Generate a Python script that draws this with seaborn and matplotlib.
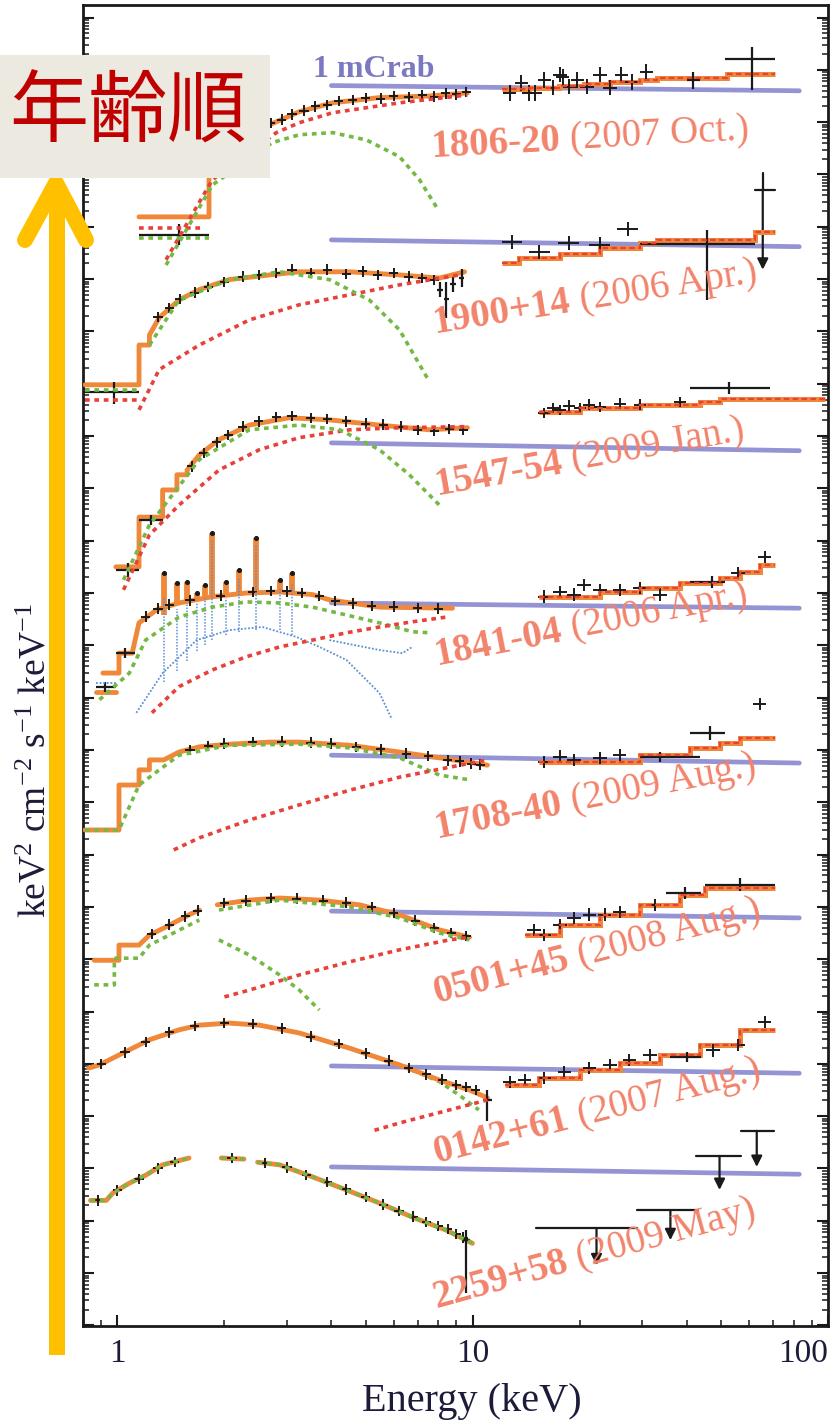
import numpy as np
import matplotlib.pyplot as plt
import matplotlib.transforms as mtransforms
import seaborn as sns
from matplotlib.lines import Line2D
from matplotlib.patches import Rectangle
from matplotlib.ticker import LogLocator, NullFormatter

# energies in keV, fluxes as log10 of the stacked nuFnu (each source shifted by a constant)

# ---- 1806-20
tot_1806 = [(1.15, 20.19), (1.81, 20.19), (1.81, 21.00), (2.06, 21.50), (2.35, 21.75), (2.68, 21.95),
            (3.25, 22.20), (4.03, 22.37), (5.46, 22.47), (7.55, 22.50), (9.66, 22.56)]
pl_1806_lo = [(1.15, 19.98), (1.75, 19.98)]
pl_1806 = [(1.37, 19.37), (1.59, 20.13), (1.85, 20.90), (2.80, 21.80), (3.25, 21.99), (4.03, 22.18),
           (6.22, 22.37), (9.66, 22.52)]
bb_1806_lo = [(1.15, 19.79), (1.81, 19.79)]
bb_1806 = [(1.37, 19.27), (1.85, 20.80), (2.73, 21.61), (3.25, 21.76), (4.03, 21.80), (5.02, 21.66),
           (6.22, 21.34), (7.08, 20.90), (7.90, 20.38)]
soft_1806 = [(2.70, 21.98), (2.90, 22.05), (3.10, 22.15), (3.35, 22.22), (3.60, 22.30), (3.90, 22.33),
             (4.20, 22.40), (4.60, 22.42), (5.00, 22.46), (5.50, 22.45), (6.00, 22.50), (6.60, 22.48),
             (7.20, 22.52), (7.80, 22.49), (8.40, 22.55), (9.00, 22.53), (9.60, 22.58)]
big_1806 = [(1.49, 19.85, 1.15, 1.81, 19.65, 20.05), (41.6, 22.80, 40.0, 43.5, 22.64, 22.96),
            (61.0, 23.21, 51.2, 70.8, 22.62, 23.44)]
hard_edges_1806 = [12.1, 14.4, 17.5, 20.6, 24.3, 29.5, 33.1, 51.8, 70.8]
hard_model_1806 = [22.64, 22.66, 22.70, 22.73, 22.77, 22.81, 22.85, 22.93]
hard_1806 = [(12.7, 22.56), (13.7, 22.75), (14.4, 22.56), (15.0, 22.56), (15.9, 22.81), (16.8, 22.66),
             (17.6, 22.91), (17.9, 22.87), (18.7, 22.68), (19.7, 22.81), (21.0, 22.68), (22.8, 22.91),
             (24.3, 22.66), (26.2, 22.91), (28.1, 22.77), (30.8, 22.96)]
mcrab_1806 = [(4.0, 22.70), (83.0, 22.60)]

# ---- 1900+14
tot_1900 = [(0.81, 16.98), (1.15, 16.98), (1.15, 17.74), (1.23, 17.74), (1.23, 17.93), (1.31, 18.26),
            (1.49, 18.60), (1.70, 18.80), (2.06, 18.99), (2.68, 19.08), (3.25, 19.14), (4.50, 19.14),
            (6.22, 19.08), (8.06, 19.02), (9.48, 19.14)]
pl_1900_lo = [(0.81, 16.69), (1.15, 16.69)]
pl_1900 = [(1.15, 16.50), (1.31, 17.27), (1.70, 17.74), (2.35, 18.22), (3.25, 18.51), (4.50, 18.70),
           (6.22, 18.89), (9.17, 19.08)]
bb_1900_lo = [(0.81, 16.88), (1.15, 16.88)]
bb_1900 = [(1.23, 17.74), (1.49, 18.60), (2.06, 18.99), (2.86, 19.14), (3.95, 18.99), (5.12, 18.60),
           (6.22, 18.03), (7.55, 17.04)]
soft_1900 = [(1.30, 18.28), (1.40, 18.45), (1.50, 18.62), (1.65, 18.74), (1.80, 18.85), (2.00, 18.95),
             (2.25, 19.05), (2.50, 19.08), (2.80, 19.12), (3.10, 19.18), (3.50, 19.12), (3.90, 19.18),
             (4.40, 19.10), (4.90, 19.15), (5.40, 19.08), (6.00, 19.12), (6.60, 19.05), (7.20, 19.02),
             (7.80, 18.98)]
big_1900 = [(0.98, 16.84, 0.81, 1.15, 16.62, 17.03), (8.10, 18.80, 7.95, 8.25, 18.65, 18.95),
            (8.43, 18.62, 8.30, 8.55, 18.25, 18.95), (8.80, 18.90, 8.65, 8.95, 18.75, 19.05),
            (9.30, 19.02, 9.15, 9.45, 18.85, 19.20), (45.5, 19.67, 29.5, 62.2, 18.60, 19.94)]
hard_edges_1900 = [12.1, 13.5, 17.6, 22.8, 29.5, 33.1, 62.2, 70.8]
hard_model_1900 = [19.31, 19.41, 19.48, 19.60, 19.69, 19.75, 19.90]
hard_1900 = [(12.9, 19.71), (15.4, 19.52), (18.6, 19.69), (22.8, 19.66), (27.3, 19.96)]
# (E low, E high, E of arrow, bar level, arrow tip, top of bar)
ul_1900 = [(62.2, 70.8, 65.5, 20.71, 19.18, 21.03)]
mcrab_1900 = [(4.0, 19.75), (83.0, 19.62)]

# ---- 1547-54
tot_1547 = [(0.99, 13.50), (1.15, 13.50), (1.15, 14.45), (1.34, 14.45), (1.34, 14.97), (1.47, 14.97),
            (1.47, 15.26), (1.57, 15.26), (1.57, 15.35), (1.70, 15.64), (1.93, 15.93), (2.35, 16.21),
            (3.04, 16.35), (3.95, 16.31), (5.46, 16.21), (7.55, 16.12), (9.66, 16.16)]
pl_1547 = [(1.04, 13.06), (1.23, 14.11), (1.49, 14.68), (1.93, 15.35), (2.51, 15.74), (3.25, 15.97),
           (4.50, 16.12), (6.22, 16.16), (9.66, 16.18)]
bb_1547 = [(1.04, 13.25), (1.23, 14.30), (1.70, 15.55), (2.35, 16.12), (3.25, 16.21), (4.22, 16.12),
           (5.46, 15.74), (6.63, 15.26), (8.06, 14.68)]
soft_1547 = [(1.62, 15.42), (1.75, 15.68), (1.90, 15.88), (2.05, 16.02), (2.25, 16.18), (2.50, 16.28),
             (2.80, 16.36), (3.10, 16.38), (3.50, 16.35), (3.90, 16.33), (4.40, 16.28), (5.00, 16.24),
             (5.60, 16.22), (6.30, 16.18), (7.00, 16.12), (7.80, 16.10), (8.60, 16.14), (9.40, 16.12)]
big_1547 = [(1.07, 13.44, 0.99, 1.15, 13.30, 13.58), (1.24, 14.40, 1.15, 1.34, 14.30, 14.50),
            (52.6, 16.92, 40.8, 68.5, 16.80, 17.04)]
hard_edges_1547 = [15.4, 20.0, 29.5, 43.5, 49.6, 97.9]
hard_model_1547 = [16.46, 16.54, 16.60, 16.65, 16.71]
hard_1547 = [(15.9, 16.44), (16.8, 16.54), (17.6, 16.50), (18.7, 16.58), (20.0, 16.54), (21.3, 16.60),
             (22.8, 16.56), (25.9, 16.62), (29.5, 16.60), (38.2, 16.65)]
mcrab_1547 = [(4.0, 15.87), (83.0, 15.72)]

# ---- 1841-04
tot_1841_lo = [(0.87, 11.11), (0.99, 11.11)]
tot_1841 = [(0.91, 11.47), (1.01, 11.47), (1.01, 11.85), (1.10, 11.85), (1.15, 12.43), (1.29, 12.68),
            (1.49, 12.81), (1.85, 12.93), (2.30, 13.00), (2.86, 13.02), (3.54, 12.97), (3.95, 12.87),
            (5.46, 12.73), (8.77, 12.71)]
# emission lines: (E, base, top)
lines_1841 = [(1.35, 12.58, 13.38), (1.47, 12.77, 13.19), (1.57, 12.83, 13.21), (1.67, 12.87, 13.00),
              (1.76, 12.91, 13.15), (1.85, 12.93, 14.15), (2.02, 12.97, 13.21), (2.20, 12.98, 13.44),
              (2.46, 13.00, 14.05), (2.86, 13.02, 13.25), (3.09, 13.00, 13.38)]
blue_lines_1841 = [(1.35, 11.30, 12.90), (1.47, 11.50, 12.70), (1.57, 11.70, 12.80), (1.67, 11.90, 12.80),
                   (1.76, 12.00, 12.90), (1.85, 12.10, 14.00), (2.02, 12.20, 12.90), (2.20, 12.25, 13.30),
                   (2.46, 12.30, 13.90), (2.86, 12.30, 13.10), (3.09, 12.20, 13.20)]
bb_1841 = [(0.89, 10.96), (1.08, 11.47), (1.20, 12.10), (1.49, 12.54), (1.85, 12.73), (2.30, 12.83),
           (2.86, 12.81), (3.54, 12.73), (4.41, 12.58), (5.46, 12.43), (6.76, 12.26), (7.55, 12.24)]
pl_1841 = [(1.25, 10.71), (1.49, 11.21), (1.85, 11.53), (2.30, 11.78), (2.86, 11.97), (3.54, 12.10),
           (4.41, 12.24), (5.46, 12.35), (6.76, 12.45), (8.43, 12.54)]
blue_1841_lo = [(0.87, 11.28), (1.00, 11.28)]
blue_1841 = [(1.13, 10.71), (1.34, 11.47), (1.67, 12.10), (2.06, 12.29), (2.56, 12.35), (3.19, 12.16),
             (3.70, 11.97), (4.41, 11.72), (5.46, 11.09), (5.90, 10.61)]
blue_1841_b = [(3.95, 12.10), (5.46, 11.91), (6.34, 11.85), (6.76, 11.97)]
soft_1841 = [(1.20, 12.55), (1.30, 12.70), (1.40, 12.78), (1.60, 12.86), (1.95, 12.95), (2.40, 13.02),
             (2.70, 13.04), (3.00, 13.03), (3.30, 13.00), (3.70, 12.94), (4.10, 12.85), (4.60, 12.80),
             (5.20, 12.75), (6.00, 12.74), (7.00, 12.71), (8.00, 12.70)]
big_1841 = [(1.05, 11.85, 0.99, 1.12, 11.75, 11.95), (0.92, 11.20, 0.87, 0.99, 11.10, 11.30),
            (47.0, 13.21, 40.8, 51.2, 13.10, 13.32)]
hard_edges_1841 = [15.4, 22.8, 29.5, 38.2, 49.6, 56.4, 64.2, 70.8]
hard_model_1841 = [12.93, 13.02, 13.10, 13.19, 13.29, 13.40, 13.54]
hard_1841 = [(15.9, 12.93), (17.6, 13.02), (19.3, 12.97), (20.6, 13.15), (22.8, 13.06), (25.9, 13.06),
             (29.5, 13.10), (33.6, 12.97), (55.7, 13.38), (66.3, 13.69)]
mcrab_1841 = [(4.0, 12.81), (83.0, 12.71)]

# ---- 1708-40
tot_1708 = [(0.81, 8.47), (1.01, 8.47), (1.01, 9.33), (1.15, 9.33), (1.15, 9.62), (1.23, 9.62),
            (1.23, 9.81), (1.35, 9.81), (1.49, 9.96), (1.70, 10.06), (2.06, 10.11), (2.68, 10.15),
            (3.25, 10.15), (4.50, 10.09), (6.22, 9.96), (8.06, 9.85), (11.0, 9.71)]
bb_1708 = [(0.81, 8.47), (1.01, 8.47), (1.15, 9.33), (1.49, 9.90), (2.06, 10.09), (3.25, 10.11),
           (4.50, 10.04), (6.22, 9.85), (8.06, 9.52), (9.79, 9.43)]
pl_1708 = [(1.44, 8.09), (1.70, 8.32), (2.35, 8.66), (3.25, 8.95), (4.50, 9.23), (6.22, 9.48),
           (8.60, 9.67), (11.0, 9.81)]
soft_1708 = [(1.60, 10.00), (1.80, 10.08), (2.00, 10.12), (2.40, 10.15), (2.90, 10.16), (3.50, 10.14),
             (4.00, 10.12), (4.70, 10.06), (5.50, 10.01), (6.50, 9.93), (7.50, 9.88), (8.50, 9.80),
             (9.20, 9.78), (9.90, 9.74), (10.5, 9.72)]
big_1708 = [(33.6, 9.87, 29.5, 43.5, 9.77, 9.97), (46.4, 10.33, 40.8, 51.2, 10.20, 10.45)]
hard_edges_1708 = [15.4, 29.5, 40.8, 49.6, 56.4, 70.8]
hard_model_1708 = [9.77, 9.90, 10.04, 10.13, 10.23]
hard_1708 = [(15.9, 9.77), (17.6, 9.87), (19.3, 9.81), (22.8, 9.85), (25.9, 9.90), (64.2, 10.88)]
mcrab_1708 = [(4.0, 9.90), (83.0, 9.75)]

# ---- 0501+45
tot_0501_a = [(0.86, 5.98), (1.01, 5.98), (1.01, 6.27), (1.15, 6.27), (1.23, 6.46), (1.40, 6.65),
              (1.59, 6.85), (1.70, 6.94)]
tot_0501_b = [(1.91, 7.04), (2.35, 7.13), (2.86, 7.17), (3.70, 7.13), (4.80, 7.04), (6.22, 6.85),
              (8.06, 6.56), (9.79, 6.42)]
bb_0501_a = [(0.86, 5.51), (0.98, 5.51), (0.98, 6.02), (1.15, 6.02), (1.23, 6.27), (1.70, 6.75)]
bb_0501_b = [(1.93, 6.37), (2.35, 6.08), (2.86, 5.70), (3.25, 5.41), (3.70, 5.03)]
bb_0501_c = [(1.93, 6.94), (2.86, 7.13), (4.50, 7.00), (6.22, 6.79), (8.06, 6.50), (9.79, 6.37)]
pl_0501 = [(2.00, 5.28), (2.35, 5.41), (3.25, 5.70), (4.50, 5.95), (6.22, 6.18), (8.60, 6.37), (9.79, 6.42)]
soft_0501 = [(1.25, 6.48), (1.40, 6.66), (1.55, 6.82), (1.68, 6.93), (2.00, 7.07), (2.30, 7.12),
             (2.70, 7.17), (3.20, 7.16), (3.80, 7.12), (4.40, 7.08), (5.20, 7.00), (6.00, 6.88),
             (6.90, 6.74), (7.80, 6.60), (8.70, 6.50), (9.60, 6.44)]
big_0501 = [(39.5, 7.27, 35.0, 44.0, 7.15, 7.39), (56.4, 7.42, 45.0, 70.8, 7.30, 7.55)]
hard_edges_0501 = [14.0, 17.55, 22.75, 29.5, 38.2, 45.0, 70.8]
hard_model_0501 = [6.46, 6.65, 6.85, 7.04, 7.23, 7.36]
hard_0501 = [(14.9, 6.56), (15.9, 6.46), (17.6, 6.65), (19.3, 6.79), (21.3, 6.85), (23.5, 6.85),
             (25.9, 6.90), (32.5, 7.04)]
mcrab_0501 = [(4.0, 6.92), (83.0, 6.79)]

# ---- 0142+61
tot_0142 = [(0.83, 3.92), (0.89, 3.98), (1.01, 4.17), (1.23, 4.46), (1.49, 4.65), (1.70, 4.74),
            (2.06, 4.78), (2.51, 4.74), (3.25, 4.59), (4.50, 4.30), (6.22, 3.98), (8.06, 3.69),
            (9.79, 3.50), (11.0, 3.35)]
bb_0142 = [(0.83, 3.92), (0.89, 3.98), (1.01, 4.17), (1.23, 4.46), (1.49, 4.65), (1.70, 4.74),
           (2.06, 4.78), (2.51, 4.74), (3.25, 4.59), (4.50, 4.30), (6.22, 3.98), (8.06, 3.66),
           (9.17, 3.40), (10.4, 3.12)]
pl_0142 = [(5.29, 2.73), (6.22, 2.87), (8.60, 3.12), (11.0, 3.31)]
soft_0142 = [(0.90, 4.00), (1.05, 4.22), (1.20, 4.42), (1.40, 4.60), (1.65, 4.72), (2.00, 4.78),
             (2.40, 4.76), (2.90, 4.68), (3.50, 4.52), (4.20, 4.38), (5.00, 4.20), (5.80, 4.06),
             (6.60, 3.92), (7.40, 3.80), (8.20, 3.70), (9.00, 3.60), (9.60, 3.56), (10.2, 3.50)]
big_0142 = [(11.0, 3.30, 10.7, 11.3, 2.90, 3.50), (40.1, 4.13, 36.0, 44.0, 4.03, 4.23)]
hard_edges_0142 = [12.3, 15.4, 20.0, 25.9, 33.6, 43.5, 56.4, 70.8]
hard_model_0142 = [3.59, 3.73, 3.88, 4.02, 4.17, 4.36, 4.65]
hard_0142 = [(12.7, 3.65), (14.0, 3.69), (15.9, 3.73), (18.1, 3.84), (21.3, 3.92), (24.3, 3.98),
             (27.6, 4.07), (31.5, 4.17), (47.4, 4.26), (55.7, 4.36), (66.3, 4.80)]
mcrab_0142 = [(4.0, 3.96), (83.0, 3.82)]

# ---- 2259+58
tot_2259_a = [(0.84, 1.39), (0.93, 1.39), (0.97, 1.53), (1.08, 1.72), (1.20, 1.87), (1.34, 2.07), (1.59, 2.20)]
tot_2259_b = [(1.96, 2.20), (2.27, 2.18)]
tot_2259_c = [(2.48, 2.12), (2.86, 2.07), (3.54, 1.84), (4.41, 1.59), (5.46, 1.34), (6.76, 1.07),
              (8.43, 0.82), (9.98, 0.57)]
soft_2259 = [(0.88, 1.39), (1.00, 1.58), (1.15, 1.80), (1.30, 2.00), (1.45, 2.12), (2.10, 2.20),
             (2.60, 2.10), (3.00, 2.02), (3.40, 1.88), (3.90, 1.74), (4.40, 1.60), (5.00, 1.45),
             (5.60, 1.31), (6.20, 1.19), (6.80, 1.08), (7.40, 0.98), (8.00, 0.90), (8.50, 0.84),
             (9.00, 0.75), (9.40, 0.68)]
big_2259 = [(9.55, 0.63, 9.30, 9.80, -0.38, 0.82)]
ul_2259 = [(15.1, 29.0, 22.3, 0.86, 0.15, 0.86), (29.0, 43.0, 36.0, 1.20, 0.63, 1.20),
           (42.6, 56.8, 49.5, 2.24, 1.59, 2.24), (56.8, 70.3, 63.0, 2.72, 2.03, 2.72)]
mcrab_2259 = [(4.0, 2.03), (83.0, 1.89)]

# source labels: name, date, left baseline energy, log flux, rotation
names = ['1806-20', '1900+14', '1547-54', '1841-04', '1708-40', '0501+45', '0142+61', '2259+58']
dates = ['(2007 Oct.)', '(2006 Apr.)', '(2009 Jan.)', '(2006 Apr.)', '(2009 Aug.)', '(2008 Aug.)',
         '(2007 Aug.)', '(2009 May)']
label_e = [7.65, 7.80, 7.90, 7.90, 7.90, 7.90, 7.90, 7.90]
label_lg = [21.34, 17.97, 14.88, 11.63, 8.32, 5.16, 2.10, -0.67]
label_rot = [3, 9, 10, 11, 11, 14.5, 14.5, 15.5]

ORANGE = '#f0883a'
RED = '#e8403a'
GREEN = '#74b944'
BLUE = '#5b8fd4'
CRAB = '#8e8ed2'
SALMON = '#f2836b'
INK = '#1c1c3a'

sns.set_theme(style='ticks')
plt.rcParams['font.family'] = ['Liberation Serif', 'DejaVu Serif']
plt.rcParams['mathtext.fontset'] = 'custom'
plt.rcParams['mathtext.rm'] = 'Liberation Serif'
plt.rcParams['mathtext.it'] = 'Liberation Serif:italic'
plt.rcParams['mathtext.bf'] = 'Liberation Serif:bold'


def curve(ax, pts, color, lw, ls='-', z=3, alpha=1.0):
    a = np.array(pts, float)
    sns.lineplot(x=a[:, 0], y=10 ** a[:, 1], ax=ax, color=color, lw=lw, linestyle=ls,
                 sort=False, estimator=None, zorder=z, alpha=alpha, legend=False)


def total(ax, pts):
    curve(ax, pts, ORANGE, 3.5, '-', 3)


def comp(ax, pts, color, z=4):
    curve(ax, pts, color, 2.6, (0, (1.3, 1.3)), z)


def data(ax, pts, xf=0.03, dy=0.08, lw=1.4, z=3.2):
    a = np.array(pts, float)
    e, lg = a[:, 0], a[:, 1]
    y = 10 ** lg
    ax.errorbar(e, y, xerr=[e - e / (1 + xf), e * xf],
                yerr=[y - 10 ** (lg - dy), 10 ** (lg + dy) - y],
                fmt='none', ecolor='k', elinewidth=lw, capsize=0, zorder=z)


def crosses(ax, rows):
    for e, lg, elo, ehi, llo, lhi in rows:
        ax.errorbar([e], [10 ** lg], xerr=[[e - elo], [ehi - e]],
                    yerr=[[10 ** lg - 10 ** llo], [10 ** lhi - 10 ** lg]],
                    fmt='none', ecolor='k', elinewidth=1.6, capsize=0, zorder=3.2)


def hard_model(ax, edges, vals):
    v = 10 ** np.array(vals)
    ax.stairs(v, edges, baseline=None, color=ORANGE, lw=3.6, zorder=3)
    ax.stairs(v, edges, baseline=None, color=RED, lw=1.6, linestyle=(0, (2.5, 1.5)), zorder=4)


def upper_limits(ax, rows):
    for elo, ehi, ea, bar, tip, top in rows:
        ax.plot([elo, ehi], [10 ** bar] * 2, color='k', lw=1.6, zorder=2.5)
        if top > bar:
            ax.plot([ea, ea], [10 ** bar, 10 ** top], color='k', lw=1.6, zorder=2.5)
        ax.annotate('', xy=(ea, 10 ** tip), xytext=(ea, 10 ** bar),
                    arrowprops=dict(arrowstyle='-|>', color='k', lw=1.6, mutation_scale=16,
                                    shrinkA=0, shrinkB=0), zorder=2.5)


def crab(ax, pts):
    curve(ax, pts, CRAB, 3.4, '-', 1.5, alpha=0.95)


fig = plt.figure(figsize=(8.37, 14.25), dpi=100)
ax = fig.add_axes([0.0992, 0.0695, 0.8901, 0.9270])
ax.set_xscale('log')
ax.set_yscale('log')
ax.set_xlim(0.8, 100)
ax.set_ylim(10 ** -1.01, 10 ** 24.24)

# 1806-20
total(ax, tot_1806)
comp(ax, pl_1806_lo, RED); comp(ax, pl_1806, RED)
comp(ax, bb_1806_lo, GREEN); comp(ax, bb_1806, GREEN)
data(ax, soft_1806, dy=0.1); crosses(ax, big_1806)
hard_model(ax, hard_edges_1806, hard_model_1806)
data(ax, hard_1806, xf=0.045, dy=0.15)
crab(ax, mcrab_1806)

# 1900+14
total(ax, tot_1900)
comp(ax, pl_1900_lo, RED); comp(ax, pl_1900, RED)
comp(ax, bb_1900_lo, GREEN); comp(ax, bb_1900, GREEN)
data(ax, soft_1900, dy=0.1); crosses(ax, big_1900)
hard_model(ax, hard_edges_1900, hard_model_1900)
data(ax, hard_1900, xf=0.07, dy=0.14)
upper_limits(ax, ul_1900)
crab(ax, mcrab_1900)

# 1547-54
total(ax, tot_1547)
comp(ax, pl_1547, RED); comp(ax, bb_1547, GREEN)
data(ax, soft_1547, dy=0.1); crosses(ax, big_1547)
hard_model(ax, hard_edges_1547, hard_model_1547)
data(ax, hard_1547, xf=0.04, dy=0.1)
crab(ax, mcrab_1547)

# 1841-04
total(ax, tot_1841_lo); total(ax, tot_1841)
for e, b, t in lines_1841:
    ax.vlines(e, 10 ** b, 10 ** t, color=ORANGE, lw=4.2, zorder=3)
ax.scatter([r[0] for r in lines_1841], [10 ** r[2] for r in lines_1841], s=7, color='k', zorder=3.5)
for e, b, t in blue_lines_1841:
    ax.vlines(e, 10 ** b, 10 ** t, color=BLUE, lw=1.1, linestyles=(0, (1, 1)), zorder=4)
curve(ax, blue_1841_lo, BLUE, 1.3, (0, (1, 1)), 4)
curve(ax, blue_1841, BLUE, 1.3, (0, (1, 1)), 4)
curve(ax, blue_1841_b, BLUE, 1.3, (0, (1, 1)), 4)
comp(ax, bb_1841, GREEN); comp(ax, pl_1841, RED)
data(ax, soft_1841, dy=0.1); crosses(ax, big_1841)
hard_model(ax, hard_edges_1841, hard_model_1841)
data(ax, hard_1841, xf=0.045, dy=0.12)
crab(ax, mcrab_1841)

# 1708-40
total(ax, tot_1708)
comp(ax, bb_1708, GREEN); comp(ax, pl_1708, RED)
data(ax, soft_1708, dy=0.1); crosses(ax, big_1708)
hard_model(ax, hard_edges_1708, hard_model_1708)
data(ax, hard_1708, xf=0.045, dy=0.12)
crab(ax, mcrab_1708)

# 0501+45
total(ax, tot_0501_a); total(ax, tot_0501_b)
comp(ax, bb_0501_a, GREEN); comp(ax, bb_0501_b, GREEN); comp(ax, bb_0501_c, GREEN)
comp(ax, pl_0501, RED)
data(ax, soft_0501, dy=0.1); crosses(ax, big_0501)
hard_model(ax, hard_edges_0501, hard_model_0501)
data(ax, hard_0501, xf=0.045, dy=0.12)
crab(ax, mcrab_0501)

# 0142+61
comp(ax, bb_0142, GREEN, z=2.8)
total(ax, tot_0142)
comp(ax, pl_0142, RED)
data(ax, soft_0142, dy=0.1); crosses(ax, big_0142)
hard_model(ax, hard_edges_0142, hard_model_0142)
data(ax, hard_0142, xf=0.045, dy=0.12)
crab(ax, mcrab_0142)

# 2259+58
for seg in (tot_2259_a, tot_2259_b, tot_2259_c):
    total(ax, seg)
    comp(ax, seg, GREEN)
data(ax, soft_2259, dy=0.1); crosses(ax, big_2259)
upper_limits(ax, ul_2259)
crab(ax, mcrab_2259)

ax.text(3.54, 10 ** 22.87, '1 mCrab', fontsize=23, fontweight='bold', color='#7b79c1', zorder=5)

fig.canvas.draw()
renderer = fig.canvas.get_renderer()
for name, date, e, lg, rot in zip(names, dates, label_e, label_lg, label_rot):
    t = ax.text(e, 10 ** lg, name, rotation=rot, rotation_mode='anchor', ha='left', va='baseline',
                fontsize=28, fontweight='bold', color=SALMON, zorder=6)
    w, _, _ = renderer.get_text_width_height_descent(name + ' ', t.get_fontproperties(), ismath=False)
    off = mtransforms.offset_copy(ax.transData, fig=fig, x=w * np.cos(np.radians(rot)),
                                  y=w * np.sin(np.radians(rot)), units='dots')
    ax.text(e, 10 ** lg, date, transform=off, rotation=rot, rotation_mode='anchor', ha='left',
            va='baseline', fontsize=28, color=SALMON, zorder=6)

# axes styling
ax.set_xticks([1, 10, 100])
ax.set_xticklabels(['1', '10', '100'])
ax.xaxis.set_minor_locator(LogLocator(base=10, subs=np.arange(2, 10) * 1.0, numticks=20))
ax.xaxis.set_minor_formatter(NullFormatter())
ax.yaxis.set_major_locator(LogLocator(base=10, numticks=60))
ax.yaxis.set_minor_locator(LogLocator(base=10, subs=np.arange(2, 10) * 1.0, numticks=60))
ax.yaxis.set_major_formatter(NullFormatter())
ax.yaxis.set_minor_formatter(NullFormatter())
ax.tick_params(which='major', direction='in', length=8, width=1.5, right=True, top=False,
               labelsize=24, labelcolor=INK, pad=9, color='k')
ax.tick_params(which='minor', direction='in', length=4.5, width=1.1, right=True, top=False, color='k')
ax.get_xticklabels()[-1].set_horizontalalignment('right')
for s in ax.spines.values():
    s.set_linewidth(2.0)
    s.set_color('k')
ax.grid(False)

ax.set_xlabel('Energy (keV)', fontsize=29, color=INK)
ax.xaxis.set_label_coords(0.522, -0.043)
ax.set_ylabel(r'keV$^2$ cm$^{-2}$ s$^{-1}$ keV$^{-1}$', fontsize=27, color=INK)
ax.yaxis.set_label_coords(-0.040, 0.428)

# overlay: age-order arrow and caption box
W, H = 837.0, 1425.0
fig.add_artist(Line2D([57 / W, 57 / W], [1 - 1355 / H, 1 - 192 / H], transform=fig.transFigure,
                      color='#ffc000', lw=11.5, solid_capstyle='butt', zorder=20))
fig.add_artist(Line2D([25 / W, 56 / W, 86 / W], [1 - 240 / H, 1 - 183 / H, 1 - 240 / H],
                      transform=fig.transFigure, color='#ffc000', lw=11.5,
                      solid_capstyle='round', solid_joinstyle='round', zorder=20))
fig.add_artist(Rectangle((0, 1 - 178 / H), 270 / W, 123 / H, transform=fig.transFigure,
                         facecolor='#ece9e0', edgecolor='none', zorder=21))
fig.text(128 / W, 1 - 114 / H, '年齢順', fontsize=57, color='#c00000',
         family=['Noto Sans CJK JP', 'DejaVu Sans'], ha='center', va='center', zorder=22)

fig.savefig('out.png', dpi=100)
